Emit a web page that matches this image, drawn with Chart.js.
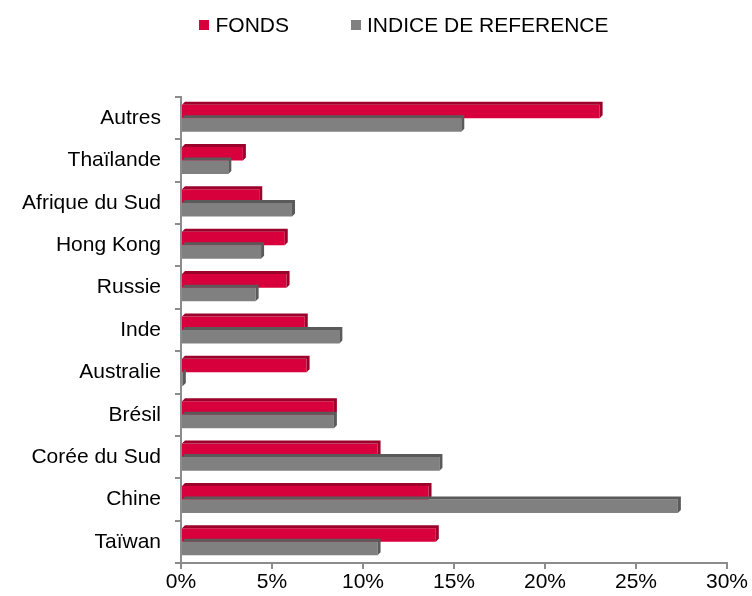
<!DOCTYPE html>
<html lang="fr">
<head>
<meta charset="UTF-8">
<title>Répartition géographique</title>
<script src="https://cdn.jsdelivr.net/npm/chart.js@4.4.1/dist/chart.umd.min.js"></script>
<style>
    body { margin: 0; background: #fff; }
    #wrap { position: relative; width: 752px; height: 596px; }
    #legende { position: absolute; top: 13px; left: 28px; width: 752px; text-align: center;
        font-family: "Liberation Sans", Arial, sans-serif; font-size: 21px; color: #000; }
    #legende span { display: inline-block; margin: 0 31px; }
    #legende i { display: inline-block; width: 10px; height: 10px; margin-right: 6px; vertical-align: 2px; }
</style>
</head>
<body>
<div id="wrap">
    <canvas id="graphique" width="752" height="596"></canvas>
    <div id="legende"></div>
</div>

<script>
// donnees (en %)
var pays = ['Autres', 'Thaïlande', 'Afrique du Sud', 'Hong Kong', 'Russie', 'Inde',
            'Australie', 'Brésil', 'Corée du Sud', 'Chine', 'Taïwan'];
var fonds = [23.0, 3.4, 4.3, 5.7, 5.8, 6.8, 6.9, 8.4, 10.8, 13.6, 14.0];
var indice = [15.4, 2.6, 6.1, 4.4, 4.1, 8.7, 0.1, 8.4, 14.2, 27.3, 10.8];
var graduations = [0, 5, 10, 15, 20, 25, 30];

var series = ['FONDS', 'INDICE DE REFERENCE'];
var couleurs = ['#d8003c', '#808080'];
var couleursSombres = ['#9c002b', '#5a5a5a'];

// legende en html
var leg = document.getElementById('legende');
series.forEach(function (nom, i) {
    leg.innerHTML += '<span><i style="background:' + couleurs[i] + '"></i>' + nom + '</span>';
});

// petit effet 3D sur les barres
var effet3D = {
    id: 'effet3D',
    afterDatasetsDraw: function (chart) {
        var ctx = chart.ctx;
        var d = 3;
        chart.data.datasets.forEach(function (ds, i) {
            chart.getDatasetMeta(i).data.forEach(function (bar) {
                var x0 = bar.base, x1 = bar.x;
                var h = bar.height, y0 = bar.y - h / 2, y1 = bar.y + h / 2;
                ctx.save();
                ctx.fillStyle = couleursSombres[i];
                ctx.beginPath();
                ctx.moveTo(x0, y0);
                ctx.lineTo(x0 + d, y0 - d);
                ctx.lineTo(x1 + d, y0 - d);
                ctx.lineTo(x1 + d, y1 - d);
                ctx.lineTo(x1, y1);
                ctx.lineTo(x1, y0);
                ctx.closePath();
                ctx.fill();
                ctx.restore();
            });
        });
    }
};

var ctx = document.getElementById('graphique').getContext('2d');
new Chart(ctx, {
    type: 'bar',
    data: {
        labels: pays,
        datasets: [
            { label: series[0], data: fonds, backgroundColor: couleurs[0] },
            { label: series[1], data: indice, backgroundColor: couleurs[1] }
        ]
    },
    options: {
        indexAxis: 'y',
        responsive: false,
        animation: false,
        categoryPercentage: 0.64,
        barPercentage: 1,
        layout: { padding: { top: 97, right: 25, bottom: 0, left: 0 } },
        plugins: {
            legend: { display: false },
            tooltip: { enabled: false }
        },
        scales: {
            x: {
                min: 0,
                max: 30,
                afterBuildTicks: function (scale) {
                    scale.ticks = graduations.map(function (v) { return { value: v }; });
                },
                afterFit: function (scale) { scale.height = 33; },
                grid: { drawOnChartArea: false, tickLength: 6, color: '#8c8c8c', lineWidth: 2 },
                border: { color: '#8c8c8c', width: 2 },
                ticks: {
                    padding: 1,
                    color: '#000',
                    font: { family: '"Liberation Sans", Arial, sans-serif', size: 21 },
                    callback: function (v) { return v + '%'; }
                }
            },
            y: {
                afterFit: function (scale) { scale.width = 181; },
                grid: { drawOnChartArea: false, tickLength: 6, color: '#8c8c8c', lineWidth: 2 },
                border: { color: '#8c8c8c', width: 2 },
                ticks: {
                    padding: 14,
                    color: '#000',
                    font: { family: '"Liberation Sans", Arial, sans-serif', size: 21 }
                }
            }
        }
    },
    plugins: [effet3D]
});
</script>
</body>
</html>
